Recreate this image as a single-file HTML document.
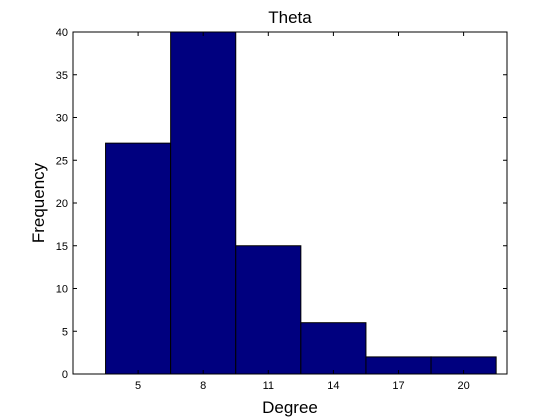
<!DOCTYPE html>
<html><head><meta charset="utf-8"><style>
body{margin:0;background:#fff;}
svg{display:block;font-family:"Liberation Sans",sans-serif;}
</style></head><body>
<svg id="chart" width="560" height="420">
<rect x="0" y="0" width="560" height="420" fill="#fff"/>
<rect x="73" y="32" width="434" height="342" fill="#fff" stroke="none"/>
<g id="bars"></g>
<g id="axes"></g>
<text x="290" y="23" font-size="17" text-anchor="middle">Theta</text>
<text x="290" y="413" font-size="17" text-anchor="middle">Degree</text>
<text x="0" y="0" font-size="17" text-anchor="middle" transform="translate(44,203) rotate(-90)">Frequency</text>
</svg>
<script>
const binCenters=[5,8,11,14,17,20];
const counts=[27,40,15,6,2,2];
const xTicks=[5,8,11,14,17,20];
const yTicks=[0,5,10,15,20,25,30,35,40];
const binWidth=3;
const X0=73,X1=507,Y0=374,Y1=32,xmin=2,xmax=22,ymin=0,ymax=40;
const sx=v=>X0+(v-xmin)/(xmax-xmin)*(X1-X0);
const sy=v=>Y0-(v-ymin)/(ymax-ymin)*(Y0-Y1);
const NS="http://www.w3.org/2000/svg";
const bars=document.getElementById('bars'),axes=document.getElementById('axes');
binCenters.forEach((c,i)=>{
  const r=document.createElementNS(NS,'rect');
  const xa=sx(c-binWidth/2),xb=sx(c+binWidth/2);
  r.setAttribute('x',xa);r.setAttribute('y',sy(counts[i]));
  r.setAttribute('width',xb-xa);r.setAttribute('height',sy(0)-sy(counts[i]));
  r.setAttribute('fill','#00007f');r.setAttribute('stroke','#000');r.setAttribute('stroke-width','1');
  
  
  bars.appendChild(r);
});
const box=document.createElementNS(NS,'rect');
box.setAttribute('x',X0);box.setAttribute('y',Y1);box.setAttribute('width',X1-X0);box.setAttribute('height',Y0-Y1);
box.setAttribute('fill','none');box.setAttribute('stroke','#000');


axes.appendChild(box);
function line(x1,y1,x2,y2,name){const l=document.createElementNS(NS,'line');l.setAttribute('x1',x1);l.setAttribute('y1',y1);l.setAttribute('x2',x2);l.setAttribute('y2',y2);l.setAttribute('stroke','#000');


axes.appendChild(l);}
function text(x,y,s,anchor,name){const t=document.createElementNS(NS,'text');t.setAttribute('x',x);t.setAttribute('y',y);t.setAttribute('font-size','11');t.setAttribute('text-anchor',anchor);t.textContent=s;


axes.appendChild(t);}
xTicks.forEach(v=>{const x=sx(v);line(x,Y0,x,Y0-4,'x-tick');line(x,Y1,x,Y1+4,'x-tick-top');text(x,Y0+15,String(v),'middle','x-tick-label');});
yTicks.forEach(v=>{const y=sy(v);line(X0,y,X0+4,y,'y-tick');line(X1,y,X1-4,y,'y-tick-right');text(X0-5,y+4,String(v),'end','y-tick-label');});
</script>
</body></html>
